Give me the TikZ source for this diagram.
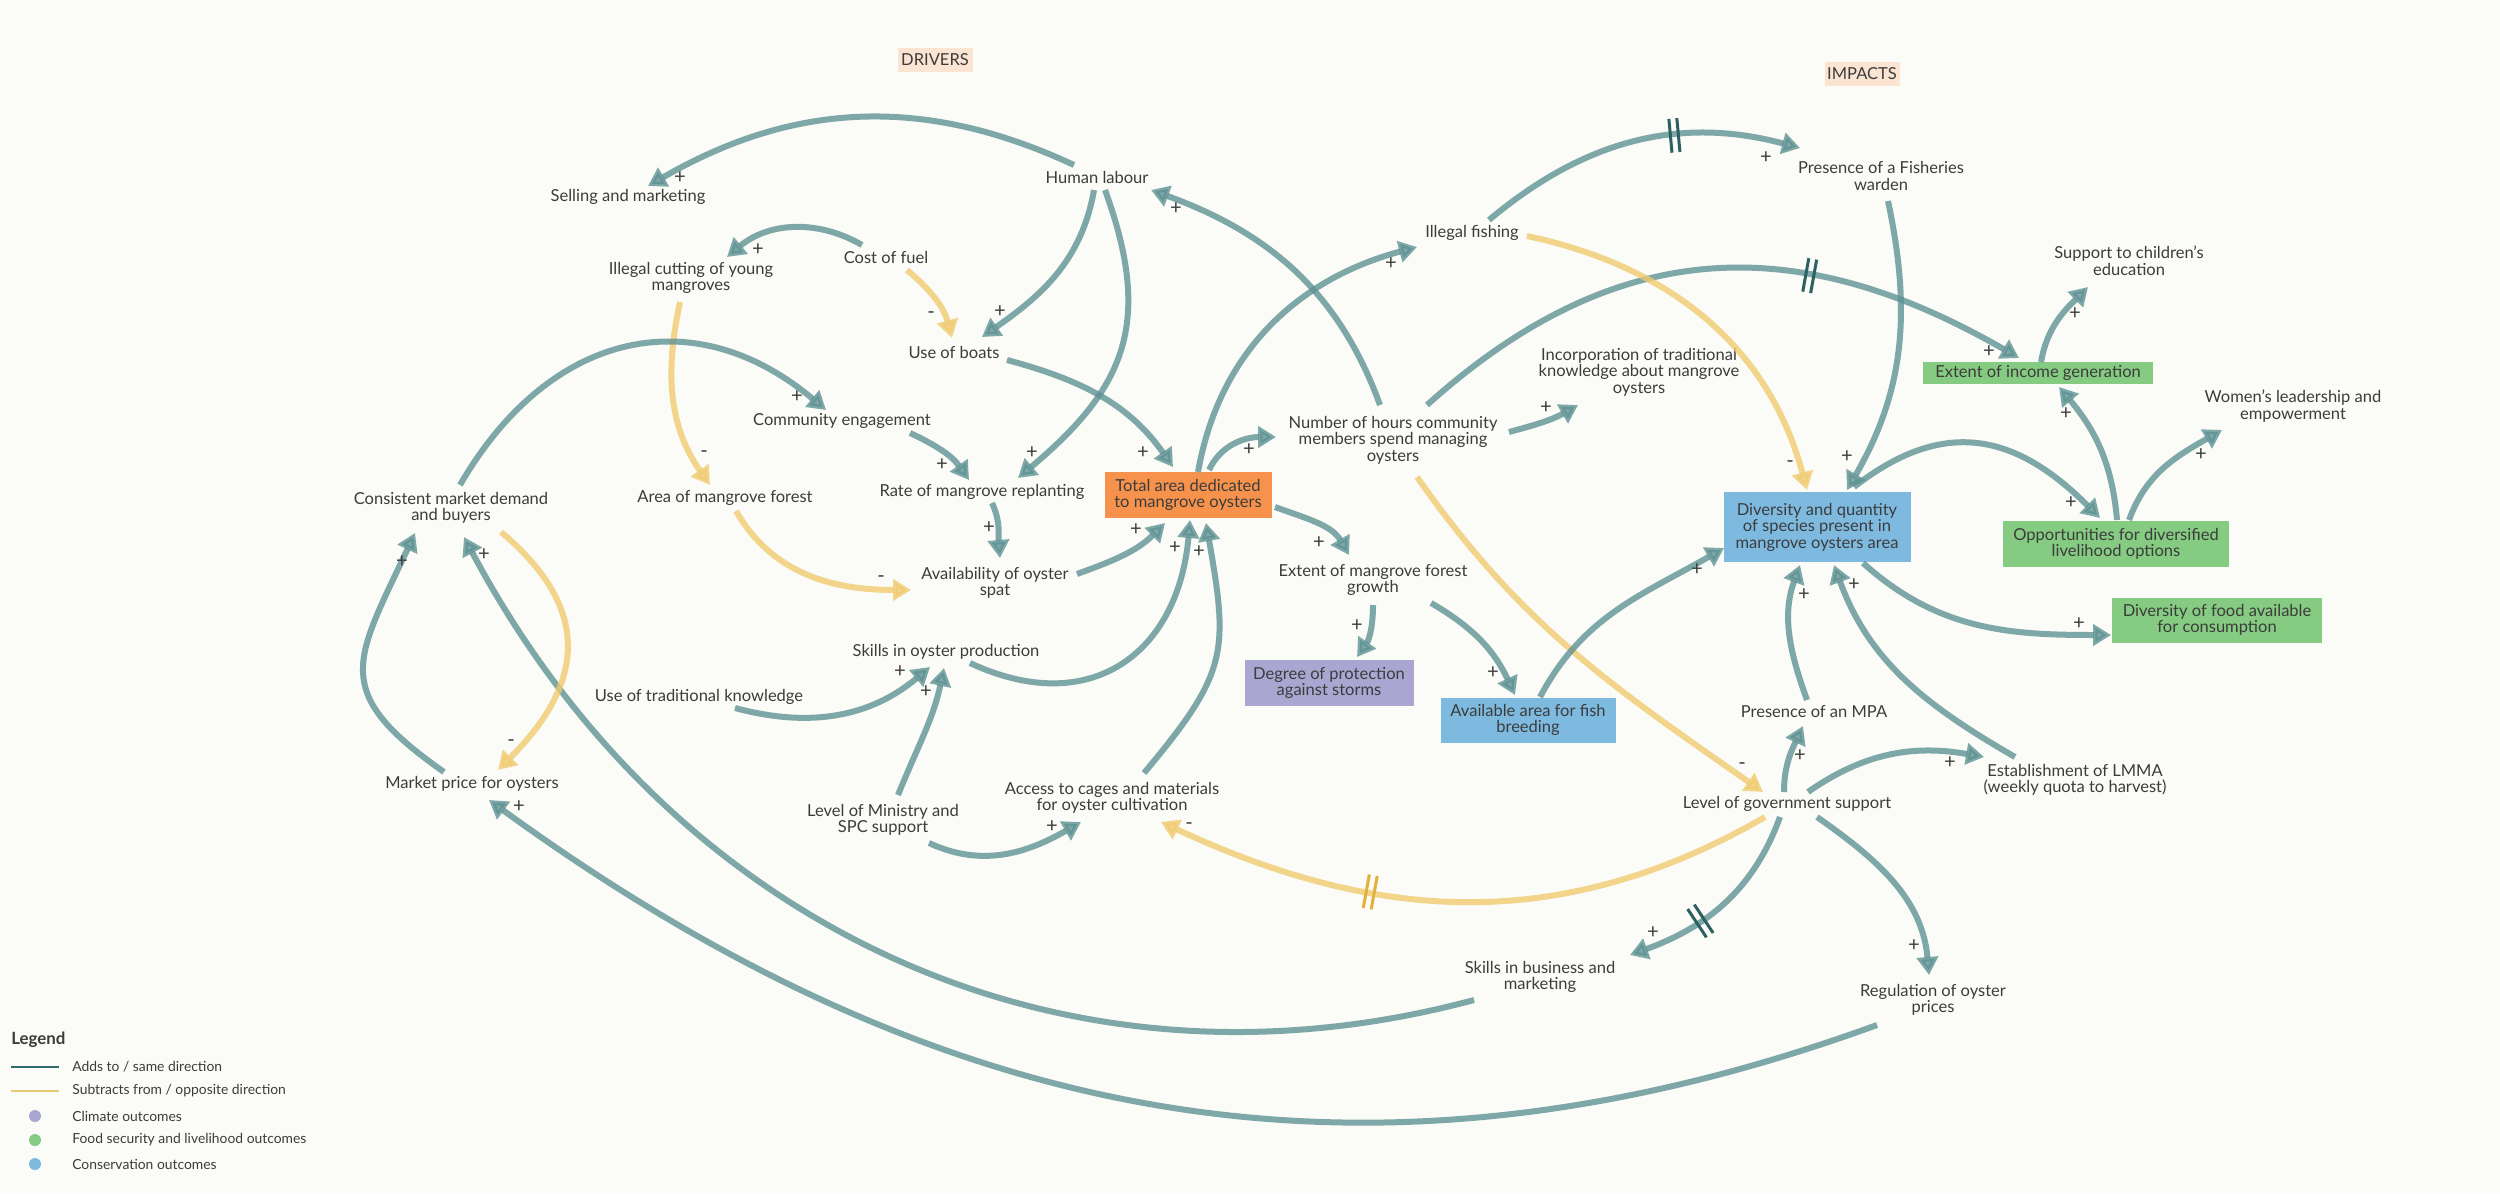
\documentclass[tikz,border=0pt]{standalone}
\usepackage{fontspec}
\setmainfont{Lato}
\usepackage{xcolor}
\usetikzlibrary{arrows.meta, decorations.markings}

\definecolor{paper}{HTML}{FBFBF8}
\definecolor{ink}{HTML}{3C3C3C}
\definecolor{linkteal}{HTML}{5F9293}
\definecolor{linksand}{HTML}{F0CB70}
\definecolor{lagteal}{HTML}{2C6061}
\definecolor{lagsand}{HTML}{E2B13C}
\definecolor{boxorange}{HTML}{F6924B}
\definecolor{boxpurple}{HTML}{A9A7D1}
\definecolor{boxblue}{HTML}{7EBAE0}
\definecolor{boxgreen}{HTML}{85CB81}
\definecolor{headpeach}{HTML}{FCE4D3}
\definecolor{legteal}{HTML}{2F6A6A}
\definecolor{legsand}{HTML}{E8C870}

\newcommand{\varfont}{\fontsize{9.4}{9.4}\selectfont}

\begin{document}
\begin{tikzpicture}[x=0.02cm, y=-0.02cm,
  var/.style={font=\varfont, text=ink, align=center, inner sep=0pt},
  varbox/.style={var, fill=#1},
  headbox/.style={var, fill=headpeach, minimum width=1.5cm, minimum height=0.48cm},
  addlink/.style={draw=linkteal, line width=0.12cm, opacity=0.8,
    -{Triangle[width=0.42cm, length=0.36cm]}},
  sublink/.style={addlink, draw=linksand},
  signlbl/.style={font=\fontsize{11.5}{11.5}\selectfont, text=ink, text opacity=1, inner sep=0pt},
  legtext/.style={anchor=west, font=\fontsize{7.9}{9}\selectfont, text=ink, inner sep=0pt},
  lagmark/.style 2 args={postaction={decorate, decoration={markings,
    mark=at position #1 with {\draw[#2, line width=0.06cm, opacity=1, arrows=-]
      (-4,-17) -- (-4,17) (4,-17) -- (4,17);}}}}]

  % canvas
  \fill[paper] (0,0) rectangle (2500,1193);
  \useasboundingbox (0,0) rectangle (2500,1193);

  % headings
  \node[headbox] (drivers) at (935,60) {DRIVERS};
  \node[headbox] (impacts) at (1862,74) {IMPACTS};

  % drivers side
  \node[var] (sm) at (628,197) {Selling and marketing};
  \node[var] (hl) at (1097,177) {Human labour};
  \node[var] (fuel) at (886,257) {Cost of fuel};
  \node[var] (cut) at (691,278) {Illegal cutting of young\\mangroves};
  \node[var] (boats) at (954,352) {Use of boats};
  \node[var] (comm) at (842,421) {Community engagement};
  \node[var] (rate) at (982,492) {Rate of mangrove replanting};
  \node[var] (forest) at (725,498) {Area of mangrove forest};
  \node[var] (demand) at (451,508) {Consistent market demand\\and buyers};
  \node[var] (spat) at (995,583) {Availability of oyster\\spat};
  \node[var] (skills) at (946,652) {Skills in oyster production};
  \node[var] (tradk) at (699,697) {Use of traditional knowledge};
  \node[var] (price) at (472,784) {Market price for oysters};
  \node[var] (ministry) at (883,820) {Level of Ministry and\\SPC support};
  \node[var] (cages) at (1112,798) {Access to cages and materials\\for oyster cultivation};
  \node[varbox=boxorange, minimum width=3.34cm, minimum height=0.92cm] (total) at (1188,495)
    {Total area dedicated\\to mangrove oysters};

  % middle
  \node[var] (hours) at (1393,440) {Number of hours community\\members spend managing\\oysters};
  \node[var] (fishing) at (1472,233) {Illegal fishing};
  \node[var] (growth) at (1373,580) {Extent of mangrove forest\\growth};
  \node[varbox=boxpurple, minimum width=3.38cm, minimum height=0.92cm] (storms) at (1329,683)
    {Degree of protection\\against storms};
  \node[varbox=boxblue, minimum width=3.5cm, minimum height=0.9cm] (breeding) at (1528,720)
    {Available area for fish\\breeding};
  \node[var] (incorp) at (1639,372) {Incorporation of traditional\\knowledge about mangrove\\oysters};

  % impacts side
  \node[var] (warden) at (1881,176) {Presence of a Fisheries\\warden};
  \node[var] (children) at (2129,261) {Support to children’s\\education};
  \node[varbox=boxgreen, minimum width=4.6cm, minimum height=0.44cm] (income) at (2038,373)
    {Extent of income generation};
  \node[var] (women) at (2293,406) {Women’s leadership and\\empowerment};
  \node[varbox=boxblue, minimum width=3.74cm, minimum height=1.4cm] (species) at (1817,527)
    {Diversity and quantity\\of species present in\\mangrove oysters area};
  \node[varbox=boxgreen, minimum width=4.52cm, minimum height=0.92cm] (liveli) at (2116,544)
    {Opportunities for diversified\\livelihood options};
  \node[varbox=boxgreen, minimum width=4.2cm, minimum height=0.9cm] (food) at (2217,620)
    {Diversity of food available\\for consumption};
  \node[var] (mpa) at (1814,712) {Presence of an MPA};
  \node[var] (lmma) at (2075,780) {Establishment of LMMA\\(weekly quota to harvest)};
  \node[var] (gov) at (1787,804) {Level of government support};
  \node[var] (business) at (1540,977) {Skills in business and\\marketing};
  \node[var] (regul) at (1933,1000) {Regulation of oyster\\prices};

  % links around human labour and boats
  \draw[addlink] ([shift={(-23,-12)}]hl.center) to[out=155, in=30] ([shift={(20,-11)}]sm.center)
    node[signlbl] (sg1) at (680,178) {+};
  \draw[addlink] ([shift={(-24,-12)}]fuel.center) to[out=150, in=40] ([shift={(36,-21)}]cut.center)
    node[signlbl] (sg2) at (758,250) {+};
  \draw[sublink] ([shift={(21,13)}]fuel.center) to[out=-40, in=105] ([shift={(-2,-14)}]boats.center)
    node[signlbl] (sg3) at (931,315) {-};
  \draw[addlink] ([shift={(-3,13)}]hl.center) to[out=-100, in=35] ([shift={(28,-15)}]boats.center)
    node[signlbl] (sg4) at (1000,312) {+};
  \draw[addlink] ([shift={(8,13)}]hl.center) to[out=-70, in=40, looseness=1.2] ([shift={(36,-14)}]rate.center)
    node[signlbl] (sg5) at (1032,453) {+};
  \draw[addlink] ([shift={(53,8)}]boats.center) to[out=-15, in=125] ([shift={(-15,-28)}]total.center)
    node[signlbl] (sg6) at (1143,453) {+};

  % mangrove and spat links
  \draw[sublink] ([shift={(-11,24)}]cut.center) to[out=-102, in=125] ([shift={(-15,-13)}]forest.center)
    node[signlbl] (sg7) at (704,454) {-};
  \draw[addlink] ([shift={(9,-23)}]demand.center) to[out=60, in=140, looseness=1.2] ([shift={(-16,-11)}]comm.center)
    node[signlbl] (sg8) at (797,397) {+};
  \draw[addlink] ([shift={(68,12)}]comm.center) to[out=-25, in=125] ([shift={(-13,-12)}]rate.center)
    node[signlbl] (sg9) at (942,465) {+};
  \draw[addlink] ([shift={(10,11)}]rate.center) to[out=-65, in=95] ([shift={(5,-25)}]spat.center)
    node[signlbl] (sg10) at (989,528) {+};
  \draw[sublink] ([shift={(11,13)}]forest.center) to[out=-60, in=180] ([shift={(-84,7)}]spat.center)
    node[signlbl] (sg11) at (881,579) {-};

  % into the total area
  \draw[addlink] ([shift={(82,-9)}]spat.center) to[out=20, in=-135] ([shift={(-23,28)}]total.center)
    node[signlbl] (sg12) at (1136,530) {+};
  \draw[addlink] ([shift={(24,11)}]skills.center) to[out=-25, in=-95, looseness=1.3] ([shift={(2,25)}]total.center)
    node[signlbl] (sg13) at (1175,548) {+};
  \draw[addlink] ([shift={(32,-25)}]cages.center) to[out=50, in=-80, looseness=1.3] ([shift={(18,28)}]total.center)
    node[signlbl] (sg14) at (1199,552) {+};

  % out of the total area
  \draw[addlink] ([shift={(21,-25)}]total.center) to[out=65, in=180] ([shift={(-117,-3)}]hours.center)
    node[signlbl] (sg15) at (1249,450) {+};
  \draw[addlink] ([shift={(10,-23)}]total.center) to[out=80, in=-165] ([shift={(-55,14)}]fishing.center)
    node[signlbl] (sg16) at (1391,264) {+};
  \draw[addlink] ([shift={(87,12)}]total.center) to[out=-20, in=120] ([shift={(-24,-25)}]growth.center)
    node[signlbl] (sg17) at (1319,543) {+};

  % number of hours
  \draw[addlink] ([shift={(-13,-35)}]hours.center) to[out=110, in=-20] ([shift={(54,13)}]hl.center)
    node[signlbl] (sg18) at (1176,209) {+};
  \draw[addlink] ([shift={(116,-8)}]hours.center) to[out=15, in=-150] ([shift={(-61,33)}]incorp.center)
    node[signlbl] (sg19) at (1546,408) {+};
  \draw[addlink, lagmark={0.65}{lagteal}] ([shift={(34,-35)}]hours.center) to[out=42, in=150, looseness=1.1] ([shift={(-19,-15)}]income.center)
    node[signlbl] (sg20) at (1989,352) {+};
  \draw[sublink] ([shift={(24,37)}]hours.center) to[out=-55, in=145] ([shift={(-24,-12)}]gov.center)
    node[signlbl] (sg21) at (1742,766) {-};

  % illegal fishing and warden
  \draw[addlink, lagmark={0.62}{lagteal}] ([shift={(17,-13)}]fishing.center) to[out=40, in=165] ([shift={(-81,-28)}]warden.center)
    node[signlbl] (sg22) at (1766,158) {+};
  \draw[sublink] ([shift={(55,3)}]fishing.center) to[out=-12, in=105] ([shift={(-10,-37)}]species.center)
    node[signlbl] (sg23) at (1790,464) {-};
  \draw[addlink] ([shift={(7,25)}]warden.center) to[out=-78, in=60] ([shift={(30,-37)}]species.center)
    node[signlbl] (sg24) at (1847,457) {+};

  % mangrove growth
  \draw[addlink] ([shift={(0,25)}]growth.center) to[out=-90, in=55] ([shift={(28,-26)}]storms.center)
    node[signlbl] (sg25) at (1357,626) {+};
  \draw[addlink] ([shift={(58,23)}]growth.center) to[out=-30, in=115] ([shift={(-13,-25)}]breeding.center)
    node[signlbl] (sg26) at (1493,673) {+};
  \draw[addlink] ([shift={(12,-23)}]breeding.center) to[out=62, in=-150] ([shift={(-93,21)}]species.center)
    node[signlbl] (sg27) at (1697,570) {+};

  % livelihood outcomes
  \draw[addlink] ([shift={(37,-40)}]species.center) to[out=38, in=135, looseness=1.2] ([shift={(-16,-26)}]liveli.center)
    node[signlbl] (sg28) at (2071,503) {+};
  \draw[addlink] ([shift={(1,-24)}]liveli.center) to[out=95, in=-50] ([shift={(21,14)}]income.center)
    node[signlbl] (sg29) at (2066,414) {+};
  \draw[addlink] ([shift={(13,-24)}]liveli.center) to[out=70, in=-150] ([shift={(-71,24)}]women.center)
    node[signlbl] (sg30) at (2201,455) {+};
  \draw[addlink] ([shift={(3,-11)}]income.center) to[out=80, in=-135] ([shift={(-41,26)}]children.center)
    node[signlbl] (sg31) at (2075,314) {+};
  \draw[addlink] ([shift={(46,36)}]species.center) to[out=-42, in=180] ([shift={(-106,15)}]food.center)
    node[signlbl] (sg32) at (2079,624) {+};

  % government support
  \draw[addlink] ([shift={(-7,-12)}]mpa.center) to[out=110, in=-110] ([shift={(-17,38)}]species.center)
    node[signlbl] (sg33) at (1804,595) {+};
  \draw[addlink] ([shift={(-60,-23)}]lmma.center) to[out=150, in=-70] ([shift={(17,38)}]species.center)
    node[signlbl] (sg34) at (1854,585) {+};
  \draw[addlink] ([shift={(-3,-12)}]gov.center) to[out=90, in=-115] ([shift={(-11,14)}]mpa.center)
    node[signlbl] (sg35) at (1800,756) {+};
  \draw[addlink] ([shift={(21,-12)}]gov.center) to[out=35, in=170] ([shift={(-91,-23)}]lmma.center)
    node[signlbl] (sg36) at (1950,763) {+};
  \draw[sublink, lagmark={0.65}{lagsand}] ([shift={(-22,13)}]gov.center) to[out=-150, in=-25] ([shift={(49,24)}]cages.center)
    node[signlbl] (sg37) at (1189,826) {-};
  \draw[addlink, lagmark={0.63}{lagteal}] ([shift={(-7,13)}]gov.center) to[out=-110, in=20] ([shift={(90,-22)}]business.center)
    node[signlbl] (sg38) at (1653,933) {+};
  \draw[addlink] ([shift={(30,13)}]gov.center) to[out=-35, in=95] ([shift={(-4,-25)}]regul.center)
    node[signlbl] (sg39) at (1914,946) {+};

  % long links back to the market
  \draw[addlink] ([shift={(-66,23)}]business.center) to[out=-165, in=-62] ([shift={(13,29)}]demand.center)
    node[signlbl] (sg40) at (484,555) {+};
  \draw[addlink] ([shift={(-56,25)}]regul.center) to[out=-160, in=-36] ([shift={(17,16)}]price.center)
    node[signlbl] (sg41) at (519,807) {+};
  \draw[sublink] ([shift={(50,24)}]demand.center) to[out=-40, in=45, looseness=1.3] ([shift={(26,-14)}]price.center)
    node[signlbl] (sg42) at (511,743) {-};
  \draw[addlink] ([shift={(-28,-12)}]price.center) to[out=145, in=-115, looseness=1.5] ([shift={(-36,25)}]demand.center)
    node[signlbl] (sg43) at (402,562) {+};

  % skills and support
  \draw[addlink] ([shift={(36,11)}]tradk.center) to[out=-15, in=-140] ([shift={(-16,15)}]skills.center)
    node[signlbl] (sg44) at (900,672) {+};
  \draw[addlink] ([shift={(15,-25)}]ministry.center) to[out=68, in=-102] ([shift={(-2,16)}]skills.center)
    node[signlbl] (sg45) at (926,692) {+};
  \draw[addlink] ([shift={(46,23)}]ministry.center) to[out=-25, in=-150] ([shift={(-31,24)}]cages.center)
    node[signlbl] (sg46) at (1052,827) {+};

  % legend
  \node[anchor=west, inner sep=0pt, text=ink, font=\bfseries\fontsize{9.6}{11}\selectfont] (legend) at (11,1040) {Legend};
  \node[legtext] (lgadd) at (72,1067) {Adds to / same direction};
  \node[legtext] (lgsub) at (72,1091) {Subtracts from / opposite direction};
  \node[legtext] (lgclim) at (72,1116) {Climate outcomes};
  \node[legtext] (lgfood) at (72,1140) {Food security and livelihood outcomes};
  \node[legtext] (lgcons) at (72,1164) {Conservation outcomes};
  \draw[legteal, line width=0.04cm] ([shift={(-61,0)}]lgadd.west) -- ++(48,0);
  \draw[legsand, line width=0.04cm] ([shift={(-61,0)}]lgsub.west) -- ++(48,0);
  \fill[boxpurple] ([shift={(-37,0)}]lgclim.west) circle (0.12cm);
  \fill[boxgreen] ([shift={(-37,0)}]lgfood.west) circle (0.12cm);
  \fill[boxblue] ([shift={(-37,0)}]lgcons.west) circle (0.12cm);
\end{tikzpicture}
\end{document}
